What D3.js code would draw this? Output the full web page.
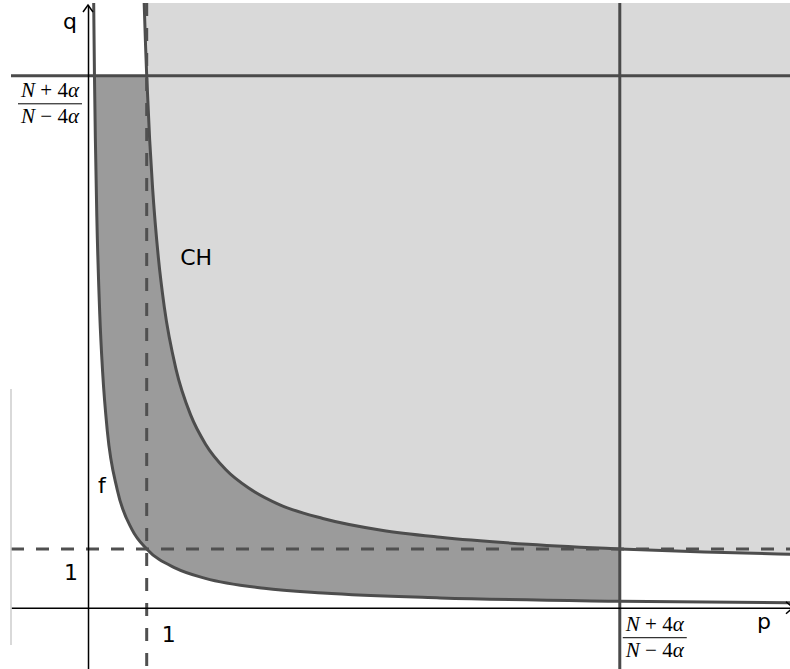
<!DOCTYPE html>
<html>
  <script src="https://d3js.org/d3.v7.js"></script>
  <style>
    body { margin: 0; background: #fff; }
  </style>
  <body>
    <svg id="plot" width="790" height="669"></svg>
    <script>
      const K = 9.06;

      // Curve CH, points (p, q)
      const chP = [0.95, 0.98, 1.0, 1.05, 1.1, 1.2, 1.3, 1.5, 1.75, 2.0, 2.35, 2.75, 3.25, 4.0, 5.0, 6.0, 7.5, 9.06, 10.5, 12.0];
      const chQ = [10.51, 9.59, 9.06, 7.98, 7.15, 5.95, 5.12, 4.06, 3.28, 2.79, 2.35, 2.03, 1.76, 1.52, 1.32, 1.20, 1.08, 1.0, 0.95, 0.91];

      // Curve f, points (p, q)
      const fP = [0.095, 0.1, 0.11, 0.125, 0.15, 0.2, 0.25, 0.33, 0.5, 0.75, 1.0, 1.5, 2.0, 3.0, 4.0, 6.0, 9.06, 12.0];
      const fQ = [10.5, 10.0, 9.06, 8.0, 6.67, 5.0, 4.0, 3.0, 2.0, 1.33, 1.0, 0.67, 0.5, 0.33, 0.25, 0.167, 0.11, 0.083];

      // Labels
      const fracTop = ["N", " + 4", "α"];
      const fracBottom = ["N", " − 4", "α"];
      const curveLabels = [
        { name: "CH", p: 1.57, q: 5.83 },
        { name: "f", p: 0.17, q: 1.95 }
      ];

      const W = 790, H = 669;
      const mLeft = 11, mTop = 3;

      const x = d3.scaleLinear().domain([-1.312, 11.96]).range([mLeft, W]);
      const y = d3.scaleLinear().domain([-1.044, 10.30]).range([H, mTop]);

      const svg = d3.select("#plot");
      const defs = svg.append("defs");

      defs.append("clipPath").attr("id", "clipPlot")
        .append("rect")
        .attr("x", mLeft).attr("y", mTop)
        .attr("width", W - mLeft).attr("height", H - mTop);

      defs.append("clipPath").attr("id", "clipBox")
        .append("rect")
        .attr("x", x(0)).attr("y", y(K))
        .attr("width", x(K) - x(0)).attr("height", y(0) - y(K));

      const chPts = chP.map((p, i) => [p, chQ[i]]);
      const fPts = fP.map((p, i) => [p, fQ[i]]);

      const line = d3.line()
        .x(d => x(d[0]))
        .y(d => y(d[1]))
        .curve(d3.curveMonotoneX);

      const g = svg.append("g").attr("clip-path", "url(#clipPlot)");

      // dark region: above f, inside the box [0,K]x[0,K]
      g.append("path")
        .attr("clip-path", "url(#clipBox)")
        .attr("d", line(fPts) + "L" + W + ",0L" + x(fP[0]) + ",0Z")
        .attr("fill", "#9b9b9b");

      // light region: above CH
      g.append("path")
        .attr("d", line(chPts) + "L" + W + ",0L" + x(chP[0]) + ",0Z")
        .attr("fill", "#d9d9d9");

      // solid lines at K
      g.append("line")
        .attr("x1", mLeft).attr("x2", W)
        .attr("y1", y(K)).attr("y2", y(K))
        .attr("stroke", "#4a4a4a").attr("stroke-width", 3);
      g.append("line")
        .attr("x1", x(K)).attr("x2", x(K))
        .attr("y1", mTop).attr("y2", H)
        .attr("stroke", "#4a4a4a").attr("stroke-width", 3);

      // curves
      g.append("path")
        .attr("d", line(fPts))
        .attr("fill", "none")
        .attr("stroke", "#4d4d4d").attr("stroke-width", 3);
      g.append("path")
        .attr("d", line(chPts))
        .attr("fill", "none")
        .attr("stroke", "#4d4d4d").attr("stroke-width", 3);

      // dashed lines at 1
      g.append("line")
        .attr("x1", mLeft).attr("x2", W)
        .attr("y1", y(1)).attr("y2", y(1))
        .attr("stroke", "#505050").attr("stroke-width", 3)
        .attr("stroke-dasharray", "13,12");
      g.append("line")
        .attr("x1", x(1)).attr("x2", x(1))
        .attr("y1", mTop).attr("y2", H)
        .attr("stroke", "#505050").attr("stroke-width", 3)
        .attr("stroke-dasharray", "13,12");

      // axes
      svg.append("g")
        .attr("transform", "translate(0," + y(0) + ")")
        .call(d3.axisBottom(x).tickValues([]).tickSizeOuter(0));
      svg.append("g")
        .attr("transform", "translate(" + x(0) + ",0)")
        .call(d3.axisLeft(y.copy().range([H, mTop + 2])).tickValues([]).tickSizeOuter(0));
      svg.selectAll(".domain").attr("stroke", "#000").attr("stroke-width", 1.5);

      svg.append("path")
        .attr("d", "M" + (x(0) - 5) + "," + (mTop + 9) + "L" + x(0) + "," + (mTop + 2) + "L" + (x(0) + 5) + "," + (mTop + 9))
        .attr("fill", "none").attr("stroke", "#000").attr("stroke-width", 1.5);
      svg.append("path")
        .attr("d", "M" + (W - 4) + "," + (y(0) - 6) + "L" + (W + 3) + "," + y(0) + "L" + (W - 4) + "," + (y(0) + 6))
        .attr("fill", "none").attr("stroke", "#000").attr("stroke-width", 1.5);

      // faint left border line
      svg.append("line")
        .attr("x1", mLeft).attr("x2", mLeft)
        .attr("y1", 389).attr("y2", 645)
        .attr("stroke", "#cccccc").attr("stroke-width", 1.5);

      const sans = "DejaVu Sans, sans-serif";
      const serif = "Liberation Serif, Times New Roman, serif";

      // axis names
      svg.append("text").attr("x", x(0) - 25).attr("y", mTop + 26)
        .attr("font-family", sans).attr("font-size", 22).text("q");
      svg.append("text").attr("x", W - 33).attr("y", y(0) + 21)
        .attr("font-family", sans).attr("font-size", 22).text("p");

      // "1" labels
      svg.append("text").attr("x", x(0) - 10).attr("y", y(1) + 31)
        .attr("text-anchor", "end")
        .attr("font-family", sans).attr("font-size", 22).text("1");
      svg.append("text").attr("x", x(1) + 15).attr("y", y(0) + 34)
        .attr("font-family", sans).attr("font-size", 22).text("1");

      // curve labels
      curveLabels.forEach(d => {
        svg.append("text").attr("x", x(d.p)).attr("y", y(d.q))
          .attr("font-family", sans).attr("font-size", 22).text(d.name);
      });

      // fraction labels
      function fraction(cx, yTop) {
        const fg = svg.append("g").attr("font-family", serif).attr("font-size", 21);
        [fracTop, fracBottom].forEach((parts, i) => {
          const t = fg.append("text")
            .attr("x", cx).attr("y", yTop + (i === 0 ? 13 : 39))
            .attr("text-anchor", "middle")
            .attr("xml:space", "preserve")
            .style("white-space", "pre");
          t.append("tspan").attr("font-style", "italic").text(parts[0]);
          t.append("tspan").text(parts[1]);
          t.append("tspan").attr("font-style", "italic").text(parts[2]);
        });
        fg.append("line")
          .attr("x1", cx - 32).attr("x2", cx + 32)
          .attr("y1", yTop + 20).attr("y2", yTop + 20)
          .attr("stroke", "#000").attr("stroke-width", 1);
      }
      fraction(x(0) - 38, y(K) + 8);
      fraction(x(K) + 35, y(0) + 10);
    </script>
  </body>
</html>
